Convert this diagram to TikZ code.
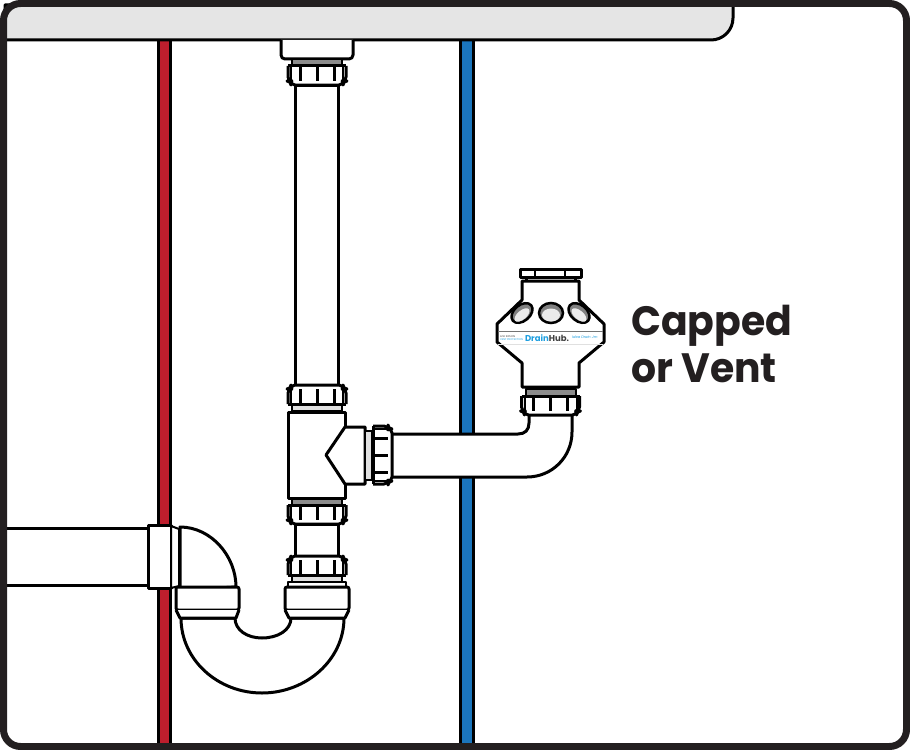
\documentclass[tikz,border=0pt]{standalone}
\usepackage{fontspec}
\setsansfont{Poppins}
\usepackage{tikz}

\definecolor{inkblack}{HTML}{231F20}
\definecolor{hotred}{HTML}{BE1E2D}
\definecolor{coldblue}{HTML}{1B75BC}
\definecolor{hubblue}{HTML}{1E9FE0}

\tikzset{
	pipeline/.style={draw=black,line width=3bp,line join=round},
	thinline/.style={draw=black,line width=2bp,line join=round},
	supply/.style={draw=black,line width=3bp},
	biglabel/.style={anchor=base west,inner sep=0pt,text=inkblack,transform shape,xscale=.96,font=\sffamily\bfseries\fontsize{41bp}{47bp}\selectfont},
}

% nut with the thread on its local top edge
\newcommand{\pipenut}[2]{
	\begin{scope}[shift={(#1)},#2]
		\draw [pipeline,fill=white,rounded corners=4bp] (-29,0) -- (-29,15) -- (-26,15) -- (-26,19) -- (26,19) -- (26,15) -- (29,15) -- (29,0);
		\draw [pipeline,fill=white] (-29,0) -- (29,0);
		\draw [thinline] (-26,1) -- (-26,15);
		\draw [thinline] (26,1) -- (26,15);
		\foreach \barx in {-17,0,17}
			\draw [pipeline] (\barx,1) -- (\barx,15);
	\end{scope}
}
\newcommand{\pipethread}[3]{
	\begin{scope}[shift={(#1)},#2]
		\draw [thinline,fill=#3] (-25,0) rectangle (25,7);
	\end{scope}
}
\newcommand{\venthole}[3]{
	\draw [draw=black,line width=2.5bp,fill=black!50] (#1) ellipse [x radius=12,y radius=#3,rotate=#2];
	\fill [black!8] (#1) ++(0,2) ellipse [x radius=9,y radius=#3-3.5,rotate=#2];
}

\begin{document}
\begin{tikzpicture}[x=1bp,y=-1bp]
	\useasboundingbox (0,0) rectangle (910,750);
	\fill [white] (0,0) rectangle (910,750);

	% supply pipes
	\draw [supply,fill=hotred] (158.5,30) rectangle (170.5,745);
	\draw [supply,fill=coldblue] (460.5,30) rectangle (473.5,745);

	% counter top and tailpiece
	\draw [pipeline,fill=black!10] (5,5) -- (733,5) {[rounded corners=22bp] -- (733,40)} -- (5,40) -- cycle;
	\draw [pipeline,fill=white,rounded corners=4bp] (281,40) -- (281,59) -- (353,59) -- (353,40);

	% vertical run
	\draw [pipeline,fill=white] (295,85) rectangle (338,388);
	\pipethread{317,59}{}{black!45}
	\pipenut{317,66}{}
	\pipethread{317,404}{}{black!12}
	\pipenut{317,404}{yscale=-1}
	\draw [pipeline,fill=white] (295,524) rectangle (338,560);
	\pipethread{317,498}{}{black!45}
	\pipenut{317,505}{}
	\pipethread{317,575}{}{black!12}
	\pipenut{317,575}{yscale=-1}

	% tee
	\draw [pipeline,fill=white] (288,412) rectangle (345,498);
	\draw [pipeline,fill=white] (345,427) -- (365,427) -- (365,484) -- (345,484) -- (326,455) -- cycle;
	\draw [thinline,fill=black!12] (365,431) rectangle (372,480);

	% horizontal arm and elbow up to the vent
	\draw [pipeline,fill=white] (391,434) -- (518,434) .. controls (525,434) and (529,430) .. (529,423) -- (529,414) -- (572,414) -- (572,432) .. controls (572,457) and (552,477) .. (527,477) -- (391,477) -- cycle;
	\pipenut{373,455}{rotate=90}

	% vent body
	\draw [pipeline,fill=white] (520,269) rectangle (581,277);
	\draw [thinline] (535,269) -- (535,277);
	\draw [thinline] (565,269) -- (565,277);
	\draw [pipeline,fill=white] (522,281) -- (579,281) -- (579,300) -- (604,324) -- (604,342) -- (579,363) -- (579,387) -- (522,387) -- (522,363) -- (497,342) -- (497,324) -- (522,300) -- cycle;
	\draw [pipeline] (526,278) -- (526,281);
	\draw [pipeline] (575,278) -- (575,281);
	\draw [draw=black!55,line width=.7bp] (498,331.5) -- (603,331.5);
	\draw [draw=black!12,line width=.7bp] (498,344.5) -- (603,344.5);
	\venthole{551,313}{0}{10}
	\venthole{522,313}{40}{8}
	\venthole{579,313}{-40}{8}
	\pipethread{550.5,389}{}{black!45}
	\pipenut{550.5,396}{}

	% trap
	\draw [pipeline,fill=white] (181,618) .. controls (181,660) and (218,693) .. (262,693) .. controls (306,693) and (344,660) .. (344,618) -- (291,618) .. controls (291,630) and (278,638) .. (262,638) .. controls (247,638) and (235,630) .. (235,618) -- cycle;
	\draw [pipeline,fill=white] (180,527) .. controls (211,527) and (236,556) .. (236,587) -- (180,590) -- cycle;
	\draw [pipeline,fill=white,rounded corners=2bp] (176,587) rectangle (239,610);
	\draw [pipeline,fill=white] (176,610) -- (180,618) -- (236,618) -- (239,610);
	\draw [thinline,fill=white] (288,582) -- (346,582) -- (346,587) -- (288,587) -- cycle;
	\draw [pipeline,fill=white,rounded corners=2bp] (285,587) rectangle (349,610);
	\draw [pipeline,fill=white] (285,610) -- (289,618) -- (345,618) -- (349,610);

	% drain arm from the wall
	\draw [pipeline,fill=white] (5,528) -- (148,528) -- (148,585) -- (5,585);
	\draw [pipeline,fill=white] (148,525) rectangle (171,588);
	\draw [thinline,fill=white] (171,526) -- (179,529) -- (179,586) -- (171,588) -- cycle;

	% frame
	\draw [draw=inkblack,line width=7bp,rounded corners=17bp] (3.5,3.5) rectangle (906.5,746.5);

	% labels
	\node (brand) at (547,338) {\sffamily\bfseries\fontsize{8.5bp}{10bp}\selectfont\textcolor{hubblue}{Drain}\textcolor{black!75}{Hub.}};
	\node [align=left,anchor=west,inner sep=0pt,font=\sffamily\fontsize{2.6bp}{3.2bp}\selectfont] (brandleft) at (500,338) {\textcolor{black!75}{Anti SIPHON}\\\textcolor{hubblue}{VENT PROTECTION}};
	\node [anchor=west,inner sep=0pt,text=hubblue,font=\sffamily\itshape\fontsize{3.6bp}{4bp}\selectfont] (brandright) at (572,337.5) {Idea Drain Jm};
	\node [biglabel] (capped) at (631,335) {Capped};
	\node [biglabel] (vent) at (631,382) {or Vent};
\end{tikzpicture}
\end{document}
